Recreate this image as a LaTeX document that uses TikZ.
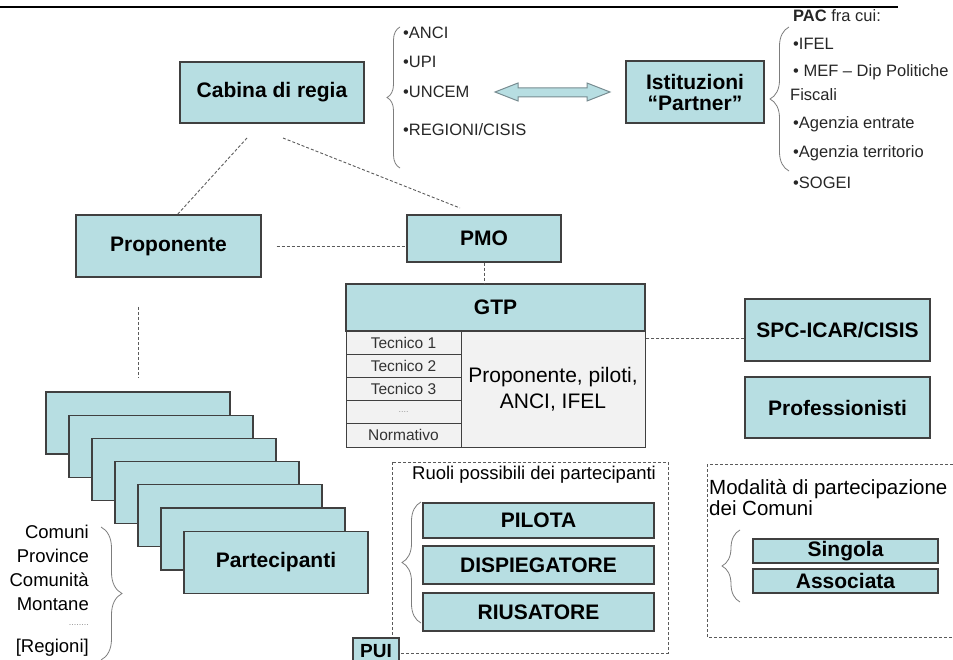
\documentclass[tikz,border=0pt]{standalone}
\usepackage{fontspec}
\setmainfont{Liberation Sans}
\usetikzlibrary{decorations.pathreplacing}
\definecolor{boxblue}{RGB}{183,222,226}
\definecolor{boxline}{RGB}{64,64,64}
\definecolor{dashgray}{RGB}{90,90,90}
\definecolor{bracegray}{RGB}{125,125,125}
\definecolor{cellgray}{RGB}{242,242,242}
\definecolor{arrowline}{RGB}{120,140,145}
\begin{document}
\begin{tikzpicture}[x=1pt,y=-1pt,
  bx/.style={draw=boxline, line width=1.1pt, fill=boxblue, inner sep=0pt,
    font=\fontsize{21}{23}\selectfont\bfseries, align=center},
  cell/.style={draw=boxline, line width=0.8pt, fill=cellgray, inner sep=0pt,
    font=\fontsize{15.5}{17}\selectfont, text=black!80, align=center},
  conn/.style={draw=dashgray, line width=0.9pt, dash pattern=on 3pt off 2pt},
  dbox/.style={draw=dashgray, line width=0.8pt, dash pattern=on 3pt off 2pt},
  brc/.style={draw=bracegray, line width=0.8pt, decorate},
  lst/.style={font=\fontsize{16.5}{19}\selectfont, anchor=west, inner sep=0pt, text=black!85},
  lbl/.style={font=\fontsize{18.5}{20}\selectfont, anchor=west, inner sep=0pt, text=black, align=left},
  comlist/.style={font=\fontsize{18.5}{20}\selectfont, anchor=east, inner sep=0pt, text=black}]
\useasboundingbox (0,0) rectangle (953,660);

% top rule
\draw[line width=1.2pt] (0,7) -- (898,7);

% main boxes
\node[bx, minimum width=184pt, minimum height=61pt] (cabina) at (272,92.5) {Cabina di regia};
\node[bx, minimum width=138pt, minimum height=62pt, font=\fontsize{21}{21}\selectfont\bfseries] (partner) at (695,92) {Istituzioni\\“Partner”};
\node[bx, minimum width=185pt, minimum height=62pt] (prop) at (168.5,246) {Proponente};
\node[bx, minimum width=154pt, minimum height=47pt] (pmo) at (484,238.5) {PMO};
\node[bx, minimum width=299pt, minimum height=47pt] (gtp) at (495.5,307.5) {GTP};
\node[bx, minimum width=185pt, minimum height=62pt] (spc) at (837.5,330) {SPC-ICAR/CISIS};
\node[bx, minimum width=185pt, minimum height=61pt] (prof) at (837.5,407.5) {Professionisti};

% GTP table
\node[cell, minimum width=115pt, minimum height=23.2pt] (t1) at (403.5,342.6) {Tecnico 1};
\node[cell, minimum width=115pt, minimum height=23.2pt] (t2) at (403.5,365.8) {Tecnico 2};
\node[cell, minimum width=115pt, minimum height=23.2pt] (t3) at (403.5,389.0) {Tecnico 3};
\node[cell, minimum width=115pt, minimum height=23.2pt, text=black!40] (t4) at (403.5,412.2) {\fontsize{9}{10}\selectfont ....};
\node[cell, minimum width=115pt, minimum height=23.2pt] (t5) at (403.5,435.4) {Normativo};
\node[cell, minimum width=184pt, minimum height=116pt, font=\fontsize{21}{26}\selectfont, text=black] (gtpr) at (553,389) {Proponente, piloti,\\ANCI, IFEL};

% participants stack
\foreach \k in {0,...,5}{
  \node[bx, minimum width=184pt, minimum height=62pt] (p\k) at ({138+23*\k},{423+23.2*\k}) {};
}
\node[bx, minimum width=184pt, minimum height=62pt] (p6) at (276,562.2) {Partecipanti};

% double arrow
\draw[draw=arrowline, fill=boxblue, line width=1pt]
  (495,92) -- (518,83) -- (518,88) -- (587,88) -- (587,83) -- (610,92)
  -- (587,101) -- (587,97) -- (518,97) -- (518,101) -- cycle;

% dashed connectors
\coordinate (cA1) at (247,138); \coordinate (cA2) at (177,215);
\coordinate (cB1) at (283,138); \coordinate (cB2) at (460,208);
\draw[conn] (cA1) -- (cA2);
\draw[conn] (cB1) -- (cB2);
\draw[conn] ([xshift=15pt]prop.east) -- (prop.east -| pmo.west);
\draw[conn] (pmo.south) -- (pmo.south |- gtp.north);
\draw[conn] ([yshift=-8pt]spc.west) -- ([yshift=-8pt]spc.west -| gtpr.east);
\coordinate (pd1) at (138,307); \coordinate (pd2) at (138,378);
\draw[conn] (pd1) -- (pd2);

% left list (ANCI...)
\draw[brc, decoration={brace, amplitude=13pt}] (400,168) -- (400,27);
\node[lst] (l1) at (403,33) {•ANCI};
\node[lst] (l2) at (403,62) {•UPI};
\node[lst] (l3) at (403,92) {•UNCEM};
\node[lst] (l4) at (403,130) {•REGIONI/CISIS};

% right list (PAC...)
\draw[brc, decoration={brace, amplitude=19pt}] (789,171) -- (789,27);
\node[lst] (r0) at (793,16) {\bfseries PAC\mdseries{} fra cui:};
\node[lst] (r1) at (793,44) {•IFEL};
\node[lst] (r2) at (793,72) {• MEF – Dip Politiche};
\node[lst] (r3) at (790,95) {Fiscali};
\node[lst] (r4) at (793,124) {•Agenzia entrate};
\node[lst] (r5) at (793,153) {•Agenzia territorio};
\node[lst] (r6) at (793,183) {•SOGEI};

% Ruoli box
\draw[dbox] (392,462) rectangle (668,653);
\node[lbl] (ruoli) at (412,475) {Ruoli possibili dei partecipanti};
\draw[brc, decoration={brace, amplitude=19pt}] (421,623) -- (421,502);
\node[bx, minimum width=231pt, minimum height=35pt] (pilota) at (538.5,520.5) {PILOTA};
\node[bx, minimum width=231pt, minimum height=38pt] (disp) at (538.5,565) {DISPIEGATORE};
\node[bx, minimum width=231pt, minimum height=38pt] (rius) at (538.5,612) {RIUSATORE};
\node[bx, minimum width=46pt, minimum height=26pt, font=\fontsize{19}{21}\selectfont\bfseries] (pui) at (376,651) {PUI};

% Modalita box
\draw[dbox] (707,464) rectangle (962,637);
\node[lbl, font=\fontsize{20.5}{21}\selectfont] (moda) at (709,498) {Modalità di partecipazione\\dei Comuni};
\draw[brc, decoration={brace, amplitude=18pt}] (740,602) -- (740,530);
\node[bx, minimum width=185pt, minimum height=24pt] (sing) at (845.5,551) {Singola};
\node[bx, minimum width=185pt, minimum height=24pt] (assoc) at (845.5,581) {Associata};

% Comuni list
\node[comlist] (m1) at (89,532) {Comuni};
\node[comlist] (m2) at (89,556) {Province};
\node[comlist] (m3) at (89,580) {Comunità};
\node[comlist] (m4) at (89,604) {Montane};
\node[comlist, text=black!45] (m5) at (89,625) {\fontsize{9}{10}\selectfont ........};
\node[comlist] (m6) at (89,648) {[Regioni]};
\draw[brc, decoration={brace, amplitude=21pt}] (101,527) -- (101,660);
\end{tikzpicture}
\end{document}
